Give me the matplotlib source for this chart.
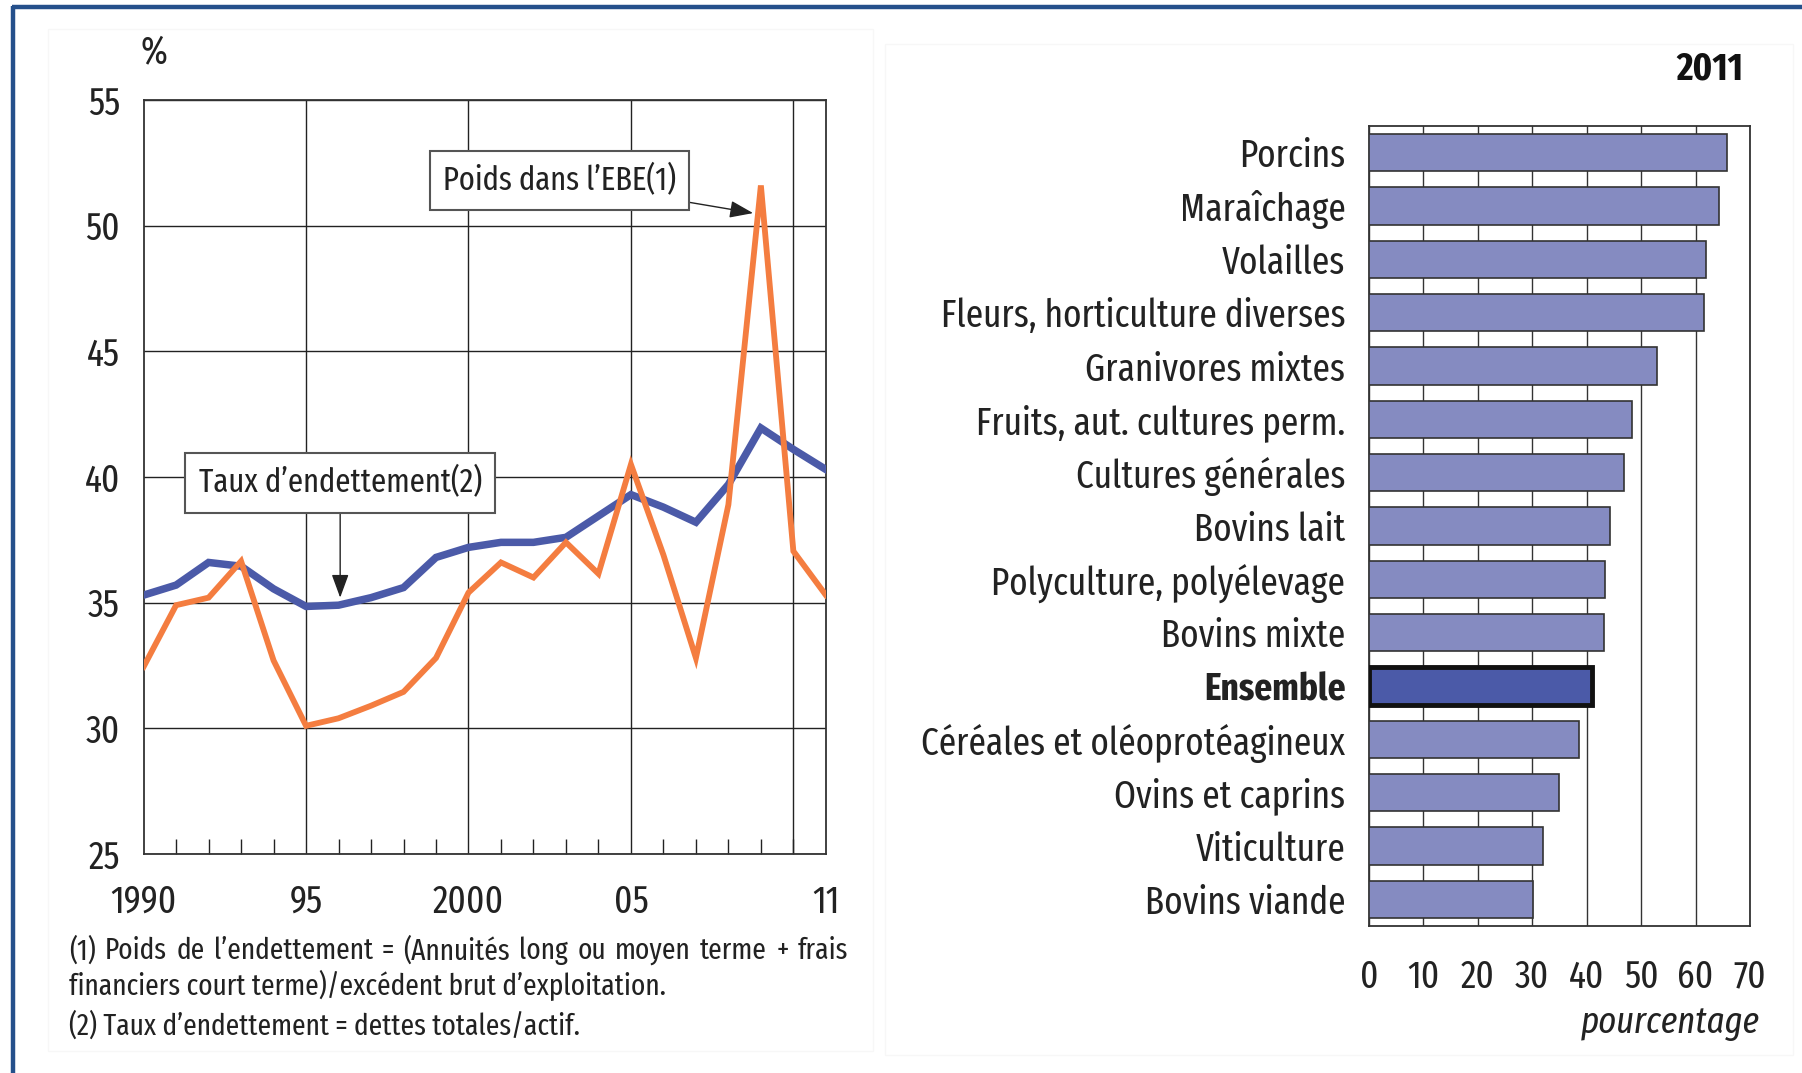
import matplotlib
matplotlib.use('Agg')
import matplotlib.pyplot as plt
from matplotlib.lines import Line2D
from matplotlib.patches import Rectangle

plt.rcParams['font.family'] = ['Fira Sans Extra Condensed', 'DejaVu Sans']

# left panel: debt ratios
years = list(range(1990, 2012))
taux = [35.3, 35.7, 36.6, 36.45, 35.55, 34.85, 34.9, 35.2, 35.6, 36.8, 37.2,
        37.4, 37.4, 37.6, 38.45, 39.3, 38.8, 38.2, 39.7, 41.95, 41.1, 40.3]
poids = [32.45, 34.9, 35.2, 36.65, 32.7, 30.1, 30.4, 30.9, 31.45, 32.8, 35.4,
         36.6, 36.0, 37.4, 36.15, 40.5, 36.9, 32.8, 38.9, 51.6, 37.05, 35.3]
xtick_pos = [1990, 1995, 2000, 2005, 2011]
xtick_lab = ['1990', '95', '2000', '05', '11']
vgrid = [1995, 2000, 2005, 2010]
yticks = [25, 30, 35, 40, 45, 50, 55]

# right panel: 2011 by farm type
categories = ['Porcins', 'Maraîchage', 'Volailles', 'Fleurs, horticulture diverses',
              'Granivores mixtes', 'Fruits, aut. cultures perm.', 'Cultures générales',
              'Bovins lait', 'Polyculture, polyélevage', 'Bovins mixte', 'Ensemble',
              'Céréales et oléoprotéagineux', 'Ovins et caprins', 'Viticulture', 'Bovins viande']
values = [65.7, 64.3, 62.0, 61.6, 53.0, 48.4, 46.8, 44.2, 43.4, 43.2, 41.0, 38.6, 35.0, 32.0, 30.1]
bar_ticks = [0, 10, 20, 30, 40, 50, 60, 70]

footnotes = ["(1) Poids de l’endettement = (Annuités long ou moyen terme + frais",
             "financiers court terme)/excédent brut d’exploitation.",
             "(2) Taux d’endettement = dettes totales/actif."]

BLUE = '#4b5aa8'
ORANGE = '#f47d40'
BAR = '#858bc1'
INK = '#222222'

fig = plt.figure(figsize=(18.02, 10.73), dpi=100)

# faint panel outlines and the blue frame
fig.add_artist(Rectangle((48 / 1802, 1 - 1051 / 1073), 825 / 1802, 1022 / 1073,
                         transform=fig.transFigure, fill=False, ec='#f7f7f7', lw=1))
fig.add_artist(Rectangle((885 / 1802, 1 - 1055 / 1073), 908 / 1802, 1011 / 1073,
                         transform=fig.transFigure, fill=False, ec='#f7f7f7', lw=1))
fig.add_artist(Line2D([12 / 1802, 1], [1 - 7 / 1073, 1 - 7 / 1073], transform=fig.transFigure,
                      color='#25508b', lw=3.2, solid_capstyle='butt'))
fig.add_artist(Line2D([13 / 1802, 13 / 1802], [0, 1 - 6 / 1073], transform=fig.transFigure,
                      color='#25508b', lw=3.2, solid_capstyle='butt'))

# ---- left chart
ax = fig.add_axes([0.0797, 0.2041, 0.3786, 0.7027])
ax.set_xlim(1990, 2011)
ax.set_ylim(25, 55)
for v in vgrid:
    ax.axvline(v, color='#222222', lw=1, zorder=1)
ax.set_yticks(yticks)
ax.grid(axis='y', color='#222222', lw=1, zorder=1)
ax.set_xticks(xtick_pos)
ax.set_xticklabels(xtick_lab)
ax.set_xticks(years, minor=True)
ax.tick_params(axis='x', which='major', length=0, pad=21, labelsize=27.5, labelcolor=INK)
ax.tick_params(axis='x', which='minor', direction='in', length=11, width=1, color='#222222')
ax.tick_params(axis='y', length=0, pad=17, labelsize=27.5, labelcolor=INK)
for s in ax.spines.values():
    s.set_linewidth(1.3)
    s.set_color('#333333')

ax.plot(years, taux, color=BLUE, lw=5.4, zorder=3, solid_joinstyle='miter')
ax.plot(years, poids, color=ORANGE, lw=4.2, zorder=4, solid_joinstyle='miter')

box = dict(boxstyle='square,pad=0.4', fc='white', ec='#555555', lw=1.5)
arrow = dict(arrowstyle='-|>,head_length=0.6,head_width=0.22', color='#222222',
             lw=1, shrinkA=0, shrinkB=0)
ax.annotate('Poids dans l’EBE(1)', xy=(2008.76, 50.5), xytext=(2002.8, 51.8),
            ha='center', va='center', fontsize=24, color=INK, bbox=box, zorder=6,
            arrowprops=arrow)
ax.annotate('Taux d’endettement(2)', xy=(1996.05, 35.2), xytext=(1996.05, 39.77),
            ha='center', va='center', fontsize=24, color=INK, bbox=box, zorder=6,
            arrowprops=arrow)

fig.text(0.0855, 0.9515, '%', ha='center', va='center', fontsize=28, color=INK)

# footnotes, first line justified
fig.canvas.draw()
renderer = fig.canvas.get_renderer()
x0, x1 = 69 / 1802, 848 / 1802
words = footnotes[0].split()
arts = [fig.text(0, 1 - 951 / 1073, w, fontsize=21.5, va='center', color=INK) for w in words]
widths = [a.get_window_extent(renderer).width / 1802 for a in arts]
gap = (x1 - x0 - sum(widths)) / (len(words) - 1)
x = x0
for a, w in zip(arts, widths):
    a.set_x(x)
    x += w + gap
fig.text(x0, 1 - 985 / 1073, footnotes[1], fontsize=21.5, va='center', color=INK)
fig.text(x0, 1 - 1026 / 1073, footnotes[2], fontsize=21.5, va='center', color=INK)

# ---- right chart
ax2 = fig.add_axes([0.7597, 0.137, 0.2114, 0.7456])
pos = list(range(len(categories)))
colors = [BLUE if c == 'Ensemble' else BAR for c in categories]
edges = ['#111111' if c == 'Ensemble' else '#333333' for c in categories]
lws = [3.5 if c == 'Ensemble' else 1.2 for c in categories]
ax2.barh(pos, values, height=0.7, color=colors, edgecolor=edges, linewidth=lws, zorder=3)
ax2.set_xlim(0, 70)
ax2.set_ylim(len(categories) - 0.5, -0.5)
ax2.set_xticks(bar_ticks)
ax2.grid(axis='x', color='#333333', lw=1, zorder=1)
ax2.set_yticks(pos)
ax2.set_yticklabels(categories)
ax2.tick_params(axis='y', length=0, pad=17, labelsize=27.5, labelcolor=INK)
ax2.tick_params(axis='x', length=0, pad=23, labelsize=27.5, labelcolor=INK)
for lab in ax2.get_yticklabels():
    if lab.get_text() == 'Ensemble':
        lab.set_fontweight('bold')
for s in ax2.spines.values():
    s.set_linewidth(1.3)
    s.set_color('#333333')

fig.text(1743 / 1802, 1 - 69 / 1073, '2011', ha='right', va='center', fontsize=28,
         fontweight='bold', color='#111111')
fig.text(1760 / 1802, 1 - 1023 / 1073, 'pourcentage', ha='right', va='center', fontsize=27,
         style='italic', color=INK)

fig.savefig('out.png', dpi=100)
